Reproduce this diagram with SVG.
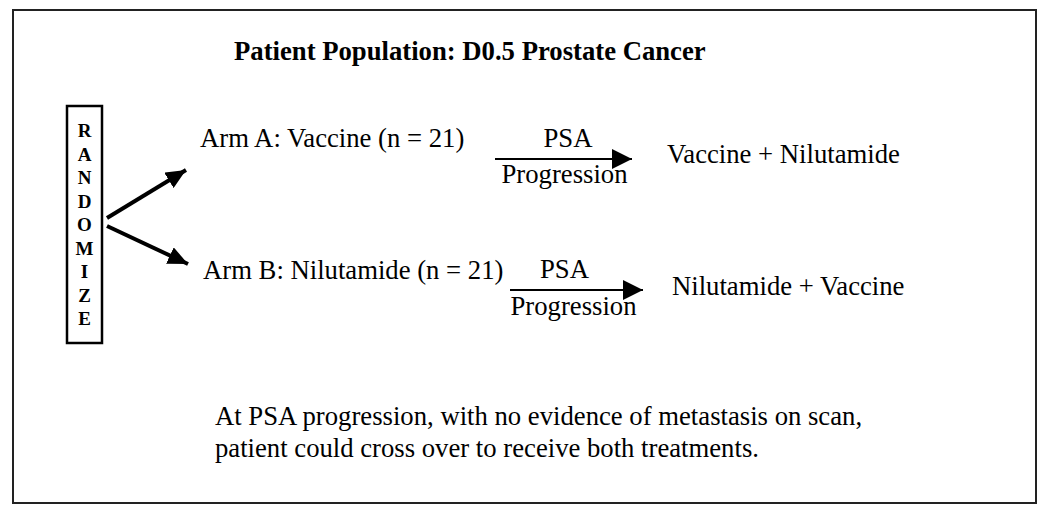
<svg xmlns="http://www.w3.org/2000/svg" width="1050" height="515" viewBox="0 0 1050 515">
<style>
.t{font-family:"Liberation Serif","Times New Roman",serif;font-size:26.7px;fill:#000}
.b{font-weight:bold}
.l{font-family:"Liberation Serif","Times New Roman",serif;font-size:19px;font-weight:bold;fill:#000;text-anchor:middle}
.c{stroke:#000;fill:none}
</style>
<defs>
<marker id="ah" viewBox="0 0 10 10" refX="10" refY="5" markerWidth="5" markerHeight="4.5" markerUnits="strokeWidth" orient="auto" preserveAspectRatio="none"><path d="M0,0L10,5L0,10z" fill="#000"/></marker>
<marker id="ah2" viewBox="0 0 10 10" refX="10" refY="5" markerWidth="10" markerHeight="10" markerUnits="strokeWidth" orient="auto"><path d="M0,0L10,5L0,10z" fill="#000"/></marker>
</defs>
<rect x="13" y="10" width="1023" height="493" fill="#fff" stroke="#222" stroke-width="2"/>
<g id="title"><text class="t b" x="234" y="60" font-size="24.3">Patient Population: D0.5 Prostate Cancer</text></g>
<g id="randomize">
<rect x="67" y="106" width="35" height="237" fill="#fff" stroke="#000" stroke-width="2.5"/>
<text class="l" x="84.5" y="137">R</text>
<text class="l" x="84.5" y="160.5">A</text>
<text class="l" x="84.5" y="184">N</text>
<text class="l" x="84.5" y="207.5">D</text>
<text class="l" x="84.5" y="231">O</text>
<text class="l" x="84.5" y="254.5">M</text>
<text class="l" x="84.5" y="278">I</text>
<text class="l" x="84.5" y="301.5">Z</text>
<text class="l" x="84.5" y="325">E</text>
</g>
<g id="armA"><text class="t" x="200" y="147">Arm A: Vaccine (n = 21)</text></g>
<g id="armB"><text class="t" x="203" y="279">Arm B: Nilutamide (n = 21)</text></g>
<g id="outA"><text class="t" x="667" y="163">Vaccine + Nilutamide</text></g>
<g id="outB"><text class="t" x="672" y="295">Nilutamide + Vaccine</text></g>
<g id="note">
<text class="t" x="215" y="425">At PSA progression, with no evidence of metastasis on scan,</text>
<text class="t" x="215" y="457">patient could cross over to receive both treatments.</text>
</g>
<g id="connectors">
<line class="c" x1="107" y1="218" x2="186" y2="170" stroke-width="4" marker-end="url(#ah)"/>
<line class="c" x1="107" y1="226" x2="188" y2="264" stroke-width="4" marker-end="url(#ah)"/>
<line class="c" x1="495" y1="159" x2="632" y2="159" stroke-width="2" marker-end="url(#ah2)"/>
<line class="c" x1="510" y1="290" x2="643" y2="290" stroke-width="2" marker-end="url(#ah2)"/>
<text class="t" x="568" y="147" text-anchor="middle">PSA</text>
<text class="t" x="564.5" y="183" text-anchor="middle">Progression</text>
<text class="t" x="564.5" y="278" text-anchor="middle">PSA</text>
<text class="t" x="573.5" y="315" text-anchor="middle">Progression</text>
</g>
</svg>
